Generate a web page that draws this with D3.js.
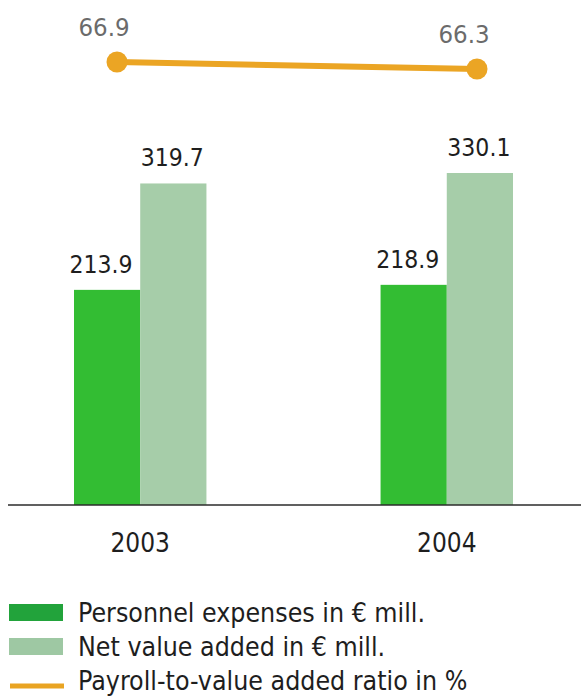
<!DOCTYPE html>
<html>
<head>
<meta charset="utf-8">
<script src="https://cdn.jsdelivr.net/npm/d3@7"></script>
<style>
  html, body { margin: 0; padding: 0; background: #ffffff; }
  svg { display: block; }
  text { font-family: "DejaVu Sans Condensed", "DejaVu Sans", sans-serif; }
</style>
</head>
<body>
<svg id="chart" width="581" height="696"></svg>
<script>
// Years on the category axis
const years = ["2003", "2004"];
// Personnel expenses in € mill.
const personnelExpenses = [213.9, 218.9];
// Net value added in € mill.
const netValueAdded = [319.7, 330.1];
// Payroll-to-value added ratio in %
const payrollRatio = [66.9, 66.3];
// Legend entries
const legendLabels = [
  "Personnel expenses in € mill.",
  "Net value added in € mill.",
  "Payroll-to-value added ratio in %"
];

const colors = {
  personnel: "#33bd33",
  netValue: "#a6cda9",
  ratio: "#eba524",
  personnelKey: "#22a33b",
  netValueKey: "#9ec8a3",
  ratioKey: "#e9a422"
};

const svg = d3.select("#chart");
const baseY = 505;

// Group positions for the two years
const x0 = d3.scaleBand()
  .domain(years)
  .range([74, 513])
  .paddingInner(0.568)
  .paddingOuter(0);

// Position of each series inside a year group
const seriesKeys = ["personnel", "netValue"];
const x1 = d3.scaleBand()
  .domain(seriesKeys)
  .range([0, x0.bandwidth()])
  .padding(0);

// Bar heights in € mill.
const y = d3.scaleLinear()
  .domain([0, 330.1])
  .range([baseY, 173]);

// Ratio line
const xLine = d3.scalePoint()
  .domain(years)
  .range([117, 477]);
const yLine = d3.scaleLinear()
  .domain([66.3, 66.9])
  .range([69, 62]);

const barData = years.map((yr, i) => ({
  year: yr,
  values: [
    { key: "personnel", value: personnelExpenses[i] },
    { key: "netValue", value: netValueAdded[i] }
  ]
}));

const groups = svg.append("g").attr("class", "bars")
  .selectAll("g")
  .data(barData)
  .join("g")
  .attr("transform", d => `translate(${x0(d.year)},0)`);

groups.selectAll("rect")
  .data(d => d.values)
  .join("rect")
  .attr("x", d => x1(d.key))
  .attr("y", d => y(d.value))
  .attr("width", x1.bandwidth())
  .attr("height", d => baseY - y(d.value))
  .attr("fill", d => colors[d.key]);

groups.selectAll("text")
  .data(d => d.values)
  .join("text")
  .attr("x", d => x1(d.key) + x1.bandwidth() / 2 + (d.key === "personnel" ? -6 : -1))
  .attr("y", d => y(d.value) - 17)
  .attr("text-anchor", "middle")
  .attr("font-size", 24.5)
  .attr("fill", "#1e1e1e")
  .text(d => d.value.toFixed(1));

// Baseline axis with year labels
const xAxis = d3.axisBottom(x0).tickSize(0).tickPadding(0);
const axisG = svg.append("g")
  .attr("transform", `translate(0,${baseY})`)
  .call(xAxis);
axisG.select(".domain").remove();
axisG.selectAll(".tick text")
  .attr("y", 47)
  .attr("dy", null)
  .attr("font-size", 26)
  .attr("fill", "#1e1e1e")
  .attr("font-family", "\"DejaVu Sans Condensed\", \"DejaVu Sans\", sans-serif");
svg.append("line")
  .attr("x1", 8).attr("x2", 581)
  .attr("y1", baseY).attr("y2", baseY)
  .attr("stroke", "#2b2b2b")
  .attr("stroke-width", 1.5);

// Ratio line with markers and labels
const lineData = years.map((yr, i) => ({ year: yr, value: payrollRatio[i] }));
const lineGen = d3.line()
  .x(d => xLine(d.year))
  .y(d => yLine(d.value));

svg.append("path")
  .datum(lineData)
  .attr("d", lineGen)
  .attr("fill", "none")
  .attr("stroke", colors.ratio)
  .attr("stroke-width", 6);

svg.append("g").selectAll("circle")
  .data(lineData)
  .join("circle")
  .attr("cx", d => xLine(d.year))
  .attr("cy", d => yLine(d.value))
  .attr("r", 10.5)
  .attr("fill", colors.ratio);

svg.append("g").selectAll("text")
  .data(lineData)
  .join("text")
  .attr("x", d => xLine(d.year) - 13)
  .attr("y", d => yLine(d.value) - 26)
  .attr("text-anchor", "middle")
  .attr("font-size", 25.5)
  .attr("fill", "#6b6b6b")
  .text(d => d.value.toFixed(1));

// Legend
const legend = svg.append("g").attr("class", "legend");
const legendRows = [
  { label: legendLabels[0], type: "box", color: colors.personnelKey },
  { label: legendLabels[1], type: "box", color: colors.netValueKey },
  { label: legendLabels[2], type: "line", color: colors.ratioKey }
];
const rowY = i => 622 + i * 34;

legend.selectAll("rect")
  .data(legendRows.filter(r => r.type === "box"))
  .join("rect")
  .attr("x", 9)
  .attr("y", (d, i) => rowY(i) - 18)
  .attr("width", 54)
  .attr("height", 17)
  .attr("fill", d => d.color);

legend.selectAll("line")
  .data(legendRows.filter(r => r.type === "line"))
  .join("line")
  .attr("x1", 10).attr("x2", 64)
  .attr("y1", rowY(2) - 4).attr("y2", rowY(2) - 4)
  .attr("stroke", d => d.color)
  .attr("stroke-width", 5);

legend.selectAll("text")
  .data(legendRows)
  .join("text")
  .attr("x", 78)
  .attr("y", (d, i) => rowY(i))
  .attr("font-size", 26.5)
  .attr("fill", "#1e1e1e")
  .text(d => d.label);
</script>
</body>
</html>
